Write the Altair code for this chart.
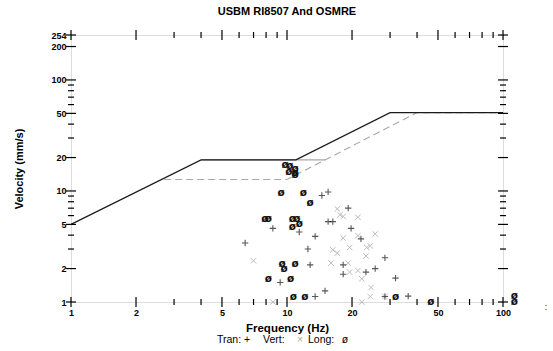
import altair as alt
import pandas as pd

# ---------------- data ----------------
tran_f = [14.5, 15.5, 8.6, 15.5, 16.3, 19.2, 19.8, 11.4, 13.5, 6.4, 12.5, 12.8, 18.2, 18.2,
          23.2, 25.6, 28.4, 31.8, 15.0, 13.5, 36.4, 28.4, 9.3, 22.0]
tran_v = [9.1, 9.8, 4.6, 5.3, 5.3, 7.0, 4.6, 4.27, 3.9, 3.4, 3.0, 2.16, 2.16, 1.78,
          1.86, 2.0, 2.5, 1.64, 1.26, 1.12, 1.13, 1.12, 1.5, 3.7]

vert_f = [17.1, 17.6, 18.2, 21.3, 25.6, 21.3, 18.2, 7.0, 19.5, 16.3, 17.1, 23.4, 24.3, 23.2,
          16.0, 19.2, 19.5, 21.3, 22.2, 24.5, 24.3, 22.2, 8.6, 28.4]
vert_v = [6.9, 6.1, 5.9, 5.8, 4.1, 3.96, 3.77, 2.35, 3.1, 2.95, 2.76, 3.1, 3.2, 2.6,
          2.24, 2.24, 1.86, 1.92, 1.62, 1.35, 1.12, 1.0, 1.0, 1.12]

long_f = [9.8, 10.3, 10.9, 10.2, 10.9, 10.9, 9.4, 11.9, 12.8, 7.9, 8.2, 10.6, 11.1, 11.4, 10.6,
          9.5, 10.9, 9.7, 8.2, 10.4, 10.7, 12.1, 31.8, 46.4, 113, 113]
long_v = [17.1, 16.8, 15.9, 14.9, 14.6, 13.9, 9.5, 9.5, 7.8, 5.65, 5.65, 5.6, 5.6, 5.0, 4.7,
          2.2, 2.2, 1.99, 1.6, 1.6, 1.1, 1.1, 1.1, 1.0, 1.14, 1.0]

osmre_f = [1, 4, 11, 30, 100]
osmre_v = [5.0, 19.05, 19.05, 50.8, 50.8]
usbm_plaster_f = [2.7, 10, 15, 40, 100]
usbm_plaster_v = [12.7, 12.7, 19.05, 50.8, 50.8]
usbm_drywall_f = [4, 15]
usbm_drywall_v = [19.05, 19.05]

x_major = [1, 2, 5, 10, 20, 50, 100]
x_minor = [3, 4, 6, 7, 8, 9, 30, 40, 60, 70, 80, 90]
y_major = [1, 2, 5, 10, 20, 50, 100, 200, 254]
y_minor = [3, 4, 6, 7, 8, 9, 30, 40, 60, 70, 80, 90]

W, H = 432, 267
FONT = "Liberation Sans"

xs = alt.Scale(type="log", domain=[1, 100], nice=False)
ys = alt.Scale(type="log", domain=[1, 254], nice=False)
xaxis = alt.Axis(values=x_major, format="d", ticks=False, domain=False, grid=False,
                 labelFont=FONT, labelFontSize=9, labelFontWeight="bold", labelPadding=6,
                 labelColor="black", labelFlush=False,
                 title="Frequency (Hz)", titleFont=FONT, titleFontSize=11.5,
                 titleFontWeight="bold", titlePadding=5, titleColor="black")
yaxis = alt.Axis(values=y_major, format="d", ticks=False, domain=False, grid=False,
                 labelFont=FONT, labelFontSize=9, labelFontWeight="bold", labelPadding=5,
                 labelColor="black", labelFlush=False,
                 title="Velocity (mm/s)", titleFont=FONT, titleFontSize=11,
                 titleFontWeight="bold", titlePadding=26, titleColor="black")

X = lambda f: alt.X(f"{f}:Q", scale=xs, axis=xaxis)
Y = lambda f: alt.Y(f"{f}:Q", scale=ys, axis=yaxis)

tran = pd.DataFrame({"f": tran_f, "v": tran_v})
vert = pd.DataFrame({"f": vert_f, "v": vert_v})
lng = pd.DataFrame({"f": long_f, "v": long_v})

def line_df(fs, vs):
    return pd.DataFrame({"f": fs, "v": vs, "o": list(range(len(fs)))})

drywall = alt.Chart(line_df(usbm_drywall_f, usbm_drywall_v)).mark_line(
    color="#a8a8a8", strokeWidth=1.2).encode(x=X("f"), y=Y("v"), order="o:Q")
plaster = alt.Chart(line_df(usbm_plaster_f, usbm_plaster_v)).mark_line(
    color="#a8a8a8", strokeWidth=1.1, strokeDash=[7, 4]).encode(x=X("f"), y=Y("v"), order="o:Q")
osmre = alt.Chart(line_df(osmre_f, osmre_v)).mark_line(
    color="#1a1a1a", strokeWidth=1.2).encode(x=X("f"), y=Y("v"), order="o:Q")

plus_path = "M-1,0L1,0M0,-1L0,1"
x_path = "M-1,-1L1,1M-1,1L1,-1"
tran_pts = alt.Chart(tran).mark_point(shape=plus_path, size=40, filled=False,
                                      color="#111", strokeWidth=1.1).encode(x=X("f"), y=Y("v"))
vert_pts = alt.Chart(vert).mark_point(shape=x_path, size=30, filled=False,
                                      color="#a0a0a0", strokeWidth=1).encode(x=X("f"), y=Y("v"))
long_pts = alt.Chart(lng).mark_text(text="ø", font="DejaVu Sans", fontSize=10.5,
                                    fontWeight="bold", color="#111").encode(x=X("f"), y=Y("v"))

def xticks(vals, half):
    df = pd.DataFrame({"t": vals})
    bot = alt.Chart(df).mark_rule(color="black", strokeWidth=1.2).encode(
        x=X("t"), y=alt.value(H - half), y2=alt.value(H + half))
    top = alt.Chart(df).mark_rule(color="black", strokeWidth=1.2).encode(
        x=X("t"), y=alt.value(-half), y2=alt.value(half))
    return [bot, top]

def yticks(vals, half):
    df = pd.DataFrame({"t": vals})
    left = alt.Chart(df).mark_rule(color="black", strokeWidth=1.2).encode(
        y=Y("t"), x=alt.value(-half), x2=alt.value(half))
    right = alt.Chart(df).mark_rule(color="black", strokeWidth=1.2).encode(
        y=Y("t"), x=alt.value(W - half), x2=alt.value(W + half))
    return [left, right]

ticks = xticks(x_major, 5) + xticks(x_minor, 3) + yticks(y_major, 5) + yticks(y_minor, 3)

one = pd.DataFrame({"a": [0]})
def label(txt, x, align="left", color="black"):
    return alt.Chart(one).mark_text(
        text=txt, font=FONT, fontSize=10.5, align=align, baseline="middle",
        color=color).encode(x=alt.value(x), y=alt.value(305))

legend = [
    label("Tran: +", 146),
    label("Vert:", 192),
    label("×", 229, align="center", color="#aaaaaa"),
    label("Long:", 237),
    label("ø", 274, align="center"),
]
stray = alt.Chart(one).mark_text(
    text=":", font=FONT, fontSize=9, align="center", baseline="middle",
    color="black").encode(x=alt.value(475), y=alt.value(272))

chart = alt.layer(
    drywall, plaster, osmre, vert_pts, tran_pts, long_pts, *ticks, *legend, stray
).properties(
    width=W, height=H,
    title=alt.TitleParams("USBM RI8507 And OSMRE", font=FONT, fontSize=11,
                          fontWeight="bold", color="black", anchor="middle", offset=12),
    autosize=alt.AutoSizeParams(type="none"),
    padding={"left": 71, "top": 35, "right": 50, "bottom": 49},
).configure_view(stroke="black", strokeWidth=1.5).configure(background="white")

chart.save("out.html", embed_options={"renderer": "svg", "actions": False})
